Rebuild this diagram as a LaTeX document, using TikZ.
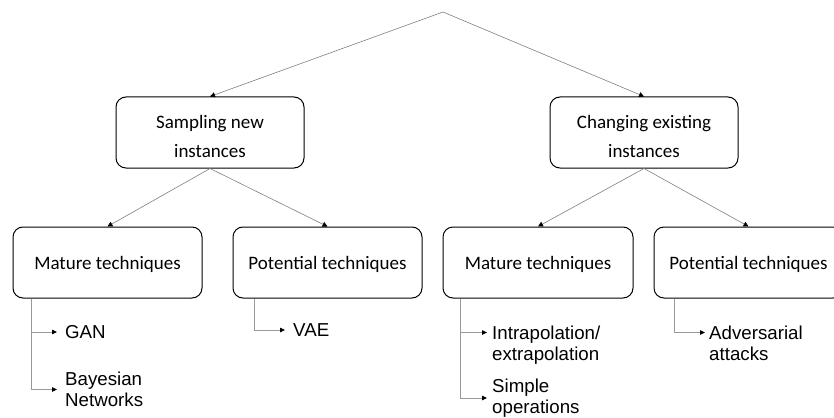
\documentclass[tikz,border=0pt]{standalone}
\usepackage{fontspec}
\setmainfont{Carlito}
\newfontfamily\leaffont{Liberation Sans}
\usetikzlibrary{arrows.meta,calc}
\newcommand\myboxtext[2]{\raisebox{#1}[\height][\depth]{\begin{tabular}{@{}c@{}}#2\end{tabular}}}
\tikzset{
  box/.style={draw=black, line width=1pt, rounded corners=10pt, minimum width=188pt, minimum height=71pt,
    align=center, inner sep=0pt, font=\fontsize{19}{28.5}\selectfont},
  conn/.style={draw=gray, line width=0.6pt, -{Triangle[length=5pt,width=5pt,color=black]}},
  leafconn/.style={draw=gray!80, line width=0.8pt, -{Triangle[length=5pt,width=4.5pt,color=black]}},
  leaf/.style={inner sep=0pt, align=left, font=\leaffont\fontsize{18.7}{21.5}\selectfont},
}
\begin{document}
\begin{tikzpicture}[x=1pt,y=-1pt]
\useasboundingbox (0,0) rectangle (834,417);
\begin{scope}
\clip (0,0) rectangle (834,417);
\coordinate (root) at (443,12);
\node[box] (s1) at (210,132.5) {\myboxtext{-5pt}{Sampling new\\instances}};
\node[box] (s2) at (644,132.5) {\myboxtext{-5pt}{Changing existing\\instances}};
\node[box, minimum width=189pt] (m1) at (107.5,262.5) {\myboxtext{-1.5pt}{Mature techniques}};
\node[box, minimum width=189pt] (p1) at (327.5,262.5) {\myboxtext{-1.5pt}{Potential techniques}};
\node[box, minimum width=190pt] (m2) at (538,262.5) {\myboxtext{-1.5pt}{Mature techniques}};
\node[box, minimum width=189pt] (p2) at (748.5,262.5) {\myboxtext{-1.5pt}{Potential techniques}};

\draw[conn] (root) -- (s1.north);
\draw[conn] (root) -- (s2.north);
\draw[conn] (s1.south) -- (m1.north);
\draw[conn] (s1.south) -- (p1.north);
\draw[conn] (s2.south) -- (m2.north);
\draw[conn] (s2.south) -- (p2.north);

% leaves
\node[leaf, anchor=west] (gan) at (65,332) {GAN};
\node[leaf, anchor=west] (bayes) at (65,389.5) {Bayesian\\Networks};
\node[leaf, anchor=west] (vae) at (293,330) {VAE};
\node[leaf, anchor=north west] (intra) at (492,325.5) {Intrapolation/\\extrapolation};
\node[leaf, anchor=west] (simple) at (492,398) {Simple\\operations};
\node[leaf, anchor=north west] (adv) at (709,325.5) {Adversarial\\attacks};

\coordinate (m1s) at ($(m1.south west)+(19,0)$);
\coordinate (p1s) at ($(p1.south west)+(22,0)$);
\coordinate (m2s) at ($(m2.south west)+(18,0)$);
\coordinate (p2s) at ($(p2.south west)+(21,0)$);
\coordinate (ganE) at ($(gan.west)+(-8,0)$);
\coordinate (bayE) at ($(bayes.west)+(-8,0)$);
\coordinate (vaeE) at ($(vae.west)+(-8,0)$);
\coordinate (intraE) at ($(intra.north west)+(-5,7)$);
\coordinate (simpleE) at ($(simple.west)+(-5,0)$);
\coordinate (advE) at ($(adv.north west)+(-4,7)$);

\draw[leafconn] (m1s) |- (ganE);
\draw[leafconn] (m1s) |- (bayE);
\draw[leafconn] (p1s) |- (vaeE);
\draw[leafconn] (m2s) |- (intraE);
\draw[leafconn] (m2s) |- (simpleE);
\draw[leafconn] (p2s) |- (advE);
\end{scope}
\end{tikzpicture}
\end{document}
